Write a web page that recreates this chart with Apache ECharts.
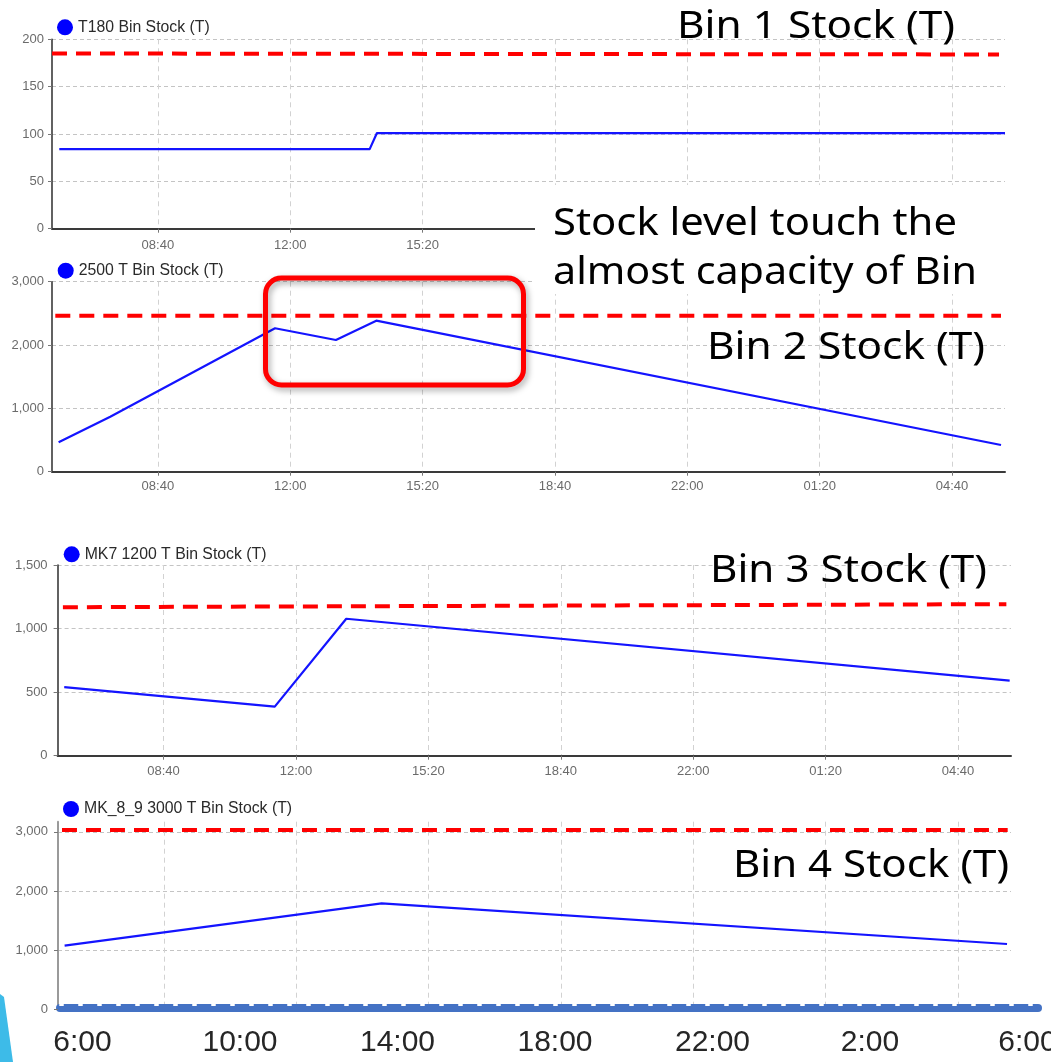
<!DOCTYPE html>
<html>
<head>
<meta charset="utf-8">
<title>Bin Stock Levels</title>
<script src="https://cdn.jsdelivr.net/npm/echarts@6/dist/echarts.min.js"></script>
<style>
  html, body { margin: 0; padding: 0; background: #fff; }
  #chart { width: 1051px; height: 1062px; }
</style>
</head>
<body>
<div id="chart"></div>
<script>
// Time on every x axis is minutes after 06:00, covering one full day (0..1440).
const timeTicks = [160, 360, 560, 760, 960, 1160, 1360];   // 08:40 ... 04:40
const shiftTicks = [0, 240, 480, 720, 960, 1200, 1440];    // 6:00 ... 6:00

const bin1Name = 'T180 Bin Stock (T)';
const bin1Stock = [[11, 84], [480, 84], [491, 101], [1440, 101]];
const bin1Capacity = [[0, 185], [1431, 184]];

const bin2Name = '2500 T Bin Stock (T)';
const bin2Stock = [[10, 464], [88, 869], [337, 2265], [429, 2080], [490, 2385], [1434, 422]];
const bin2Capacity = [[5, 2464], [1434, 2464]];

const bin3Name = 'MK7 1200 T Bin Stock (T)';
const bin3Stock = [[10, 539], [328, 386], [436, 1077], [1438, 591]];
const bin3Capacity = [[8, 1168], [1433, 1192]];

const bin4Name = 'MK_8_9 3000 T Bin Stock (T)';
const bin4Stock = [[10, 1078], [489, 1793], [1434, 1107]];
const bin4Capacity = [[6, 3030], [1435, 3030]];
const bin4YTicks = [0, 1000, 2000, 3000];

const binNotes = ['Bin 1 Stock (T)', 'Bin 2 Stock (T)', 'Bin 3 Stock (T)', 'Bin 4 Stock (T)'];
const alertNote = ['Stock level touch the', 'almost capacity of Bin'];

const chart = echarts.init(document.getElementById('chart'), null, { renderer: 'canvas' });

const tickFont = '"Liberation Sans", Arial, sans-serif';
const tickColor = '#6b6b6b';
const stockBlue = '#1414ff';
const capRed = '#ff0000';

function clock(m) {
  const t = ((Math.round(m) + 360) % 1440 + 1440) % 1440;
  return String(Math.floor(t / 60)).padStart(2, '0') + ':' + String(t % 60).padStart(2, '0');
}
function shiftClock(m) {
  const t = ((Math.round(m) + 360) % 1440 + 1440) % 1440;
  return Math.floor(t / 60) + ':' + String(t % 60).padStart(2, '0');
}

// Panel layout: one grid per bin, stacked vertically.
const panels = [
  { name: bin1Name, stock: bin1Stock, cap: bin1Capacity,
    grid: { left: 52, top: 39.3, width: 953, height: 189.4 },
    y: { max: 200, interval: 50 }, yMargin: 8, xMargin: 10,
    legend: { left: 57, top: 19.3 }, axisColor: '#3a3a3a' },
  { name: bin2Name, stock: bin2Stock, cap: bin2Capacity,
    grid: { left: 52, top: 281.7, width: 953, height: 190 },
    y: { max: 3000, interval: 1000 }, yMargin: 8, xMargin: 8,
    legend: { left: 57.7, top: 262.7 }, axisColor: '#3a3a3a' },
  { name: bin3Name, stock: bin3Stock, cap: bin3Capacity,
    grid: { left: 57.6, top: 565, width: 953.4, height: 190.7 },
    y: { max: 1500, interval: 500 }, yMargin: 10, xMargin: 9,
    legend: { left: 63.7, top: 546.3 }, axisColor: '#3a3a3a' },
  { name: bin4Name, stock: bin4Stock, cap: bin4Capacity,
    grid: { left: 58, top: 821.7, width: 953, height: 187.9 },
    y: { max: 3170, custom: bin4YTicks }, yMargin: 10, xMargin: 9, hideX: true,
    legend: { left: 63, top: 801 }, axisColor: '#9a9a9a' }
];

const grids = [], xAxes = [], yAxes = [], legends = [], series = [];

panels.forEach(function (p, i) {
  grids.push(Object.assign({ outerBoundsMode: 'none', containLabel: false }, p.grid));

  xAxes.push({
    type: 'value', gridIndex: i, min: 0, max: 1440, position: 'bottom',
    axisLine: { show: !p.hideX, onZero: false, lineStyle: { color: p.axisColor, width: 2 } },
    axisTick: { show: !p.hideX, customValues: timeTicks, length: 4, lineStyle: { color: '#777' } },
    axisLabel: {
      show: !p.hideX, customValues: timeTicks, formatter: clock, margin: p.xMargin,
      fontFamily: tickFont, fontSize: 13, color: tickColor
    },
    splitLine: { show: true, lineStyle: { color: '#d2d2d2', width: 1, type: [5, 4] } }
  });

  const yAxis = {
    type: 'value', gridIndex: i, min: 0, max: p.y.max,
    axisLine: { show: true, lineStyle: { color: p.axisColor, width: i === 3 ? 2 : 1.6 } },
    axisTick: { show: true, length: 4, lineStyle: { color: '#777' } },
    axisLabel: { margin: p.yMargin, fontFamily: tickFont, fontSize: 13, color: tickColor },
    splitLine: { show: true, lineStyle: { color: '#c4c4c4', width: 1, type: [4, 3] } }
  };
  if (p.y.custom) {
    yAxis.axisTick.customValues = p.y.custom;
    yAxis.axisLabel.customValues = p.y.custom;
  } else {
    yAxis.interval = p.y.interval;
  }
  yAxes.push(yAxis);

  legends.push({
    data: [p.name], left: p.legend.left, top: p.legend.top, padding: 0,
    icon: 'circle', itemWidth: 16, itemHeight: 16, selectedMode: false,
    textStyle: { fontFamily: tickFont, fontSize: 15.8, color: '#2a2a2a' }
  });

  series.push({
    name: p.name, type: 'line', xAxisIndex: i, yAxisIndex: i, data: p.stock,
    showSymbol: false, symbol: 'none', z: 3,
    itemStyle: { color: '#0000ff' },
    lineStyle: { color: stockBlue, width: 2.2, join: 'round' }
  });
  series.push({
    name: p.name + ' capacity', type: 'line', xAxisIndex: i, yAxisIndex: i, data: p.cap,
    showSymbol: false, symbol: 'none', z: 4, silent: true,
    lineStyle: { color: capRed, width: 4, type: [15, 9] }
  });
});

// Shift clock axis drawn under the last panel (6:00 .. 6:00).
grids.push({ left: 60, top: 990, width: 978, height: 17.5, outerBoundsMode: 'none', containLabel: false });
yAxes.push({ type: 'value', gridIndex: 4, show: false, min: 0, max: 1 });
xAxes.push({
  type: 'value', gridIndex: 4, min: -34.29, max: 1456, position: 'bottom',
  axisLine: { show: true, onZero: false, lineStyle: { color: '#4472c4', width: 8 } },
  axisTick: { show: false, customValues: shiftTicks },
  axisLabel: {
    customValues: shiftTicks, formatter: shiftClock, margin: 20,
    fontFamily: tickFont, fontSize: 30, color: '#262626'
  },
  splitLine: { show: false }
});
xAxes.push({
  type: 'value', gridIndex: 4, min: -34.29, max: 1456, position: 'bottom', offset: -3,
  axisLine: { show: true, onZero: false, lineStyle: { color: '#ffffff', width: 2, type: [3, 16] } },
  axisTick: { show: false }, axisLabel: { show: false }, splitLine: { show: false }
});

// Callout text, squeezed horizontally to the width of each text box.
const measureCtx = document.createElement('canvas').getContext('2d');
function note(text, x, yMid, width, size) {
  const f = size + 'px "Noto Sans", "Open Sans", sans-serif';
  measureCtx.font = f;
  const w = measureCtx.measureText(text).width;
  return {
    type: 'text', x: x, y: yMid, scaleX: width / w, z: 120,
    style: { text: text, font: f, fill: '#000', align: 'left', verticalAlign: 'middle',
             textAlign: 'left', textVerticalAlign: 'middle' }
  };
}

const graphics = [
  { type: 'rect', z: 100, shape: { x: 535, y: 185, width: 516, height: 109 },
    style: { fill: '#ffffff' } },
  note(binNotes[0], 677, 27, 278, 39),
  note(alertNote[0], 553, 224, 404, 39),
  note(alertNote[1], 553, 273, 424, 39),
  note(binNotes[1], 707, 348, 278, 39),
  note(binNotes[2], 710, 571, 277, 39),
  note(binNotes[3], 733, 866, 276, 39),
  { type: 'rect', z: 110, shape: { x: 265.5, y: 278, width: 258, height: 107, r: 16 },
    style: { fill: 'none', stroke: '#ff0000', lineWidth: 5,
             shadowBlur: 6, shadowColor: 'rgba(0,0,0,0.35)', shadowOffsetX: 2, shadowOffsetY: 3 } },
  { type: 'polygon', z: 100, shape: { points: [[0, 994], [4, 997], [13, 1062], [0, 1062]] },
    style: { fill: '#3dbbe8' } }
];

chart.setOption({
  animation: false,
  backgroundColor: '#ffffff',
  grid: grids,
  xAxis: xAxes,
  yAxis: yAxes,
  legend: legends,
  series: series,
  graphic: { elements: graphics }
});
</script>
</body>
</html>
